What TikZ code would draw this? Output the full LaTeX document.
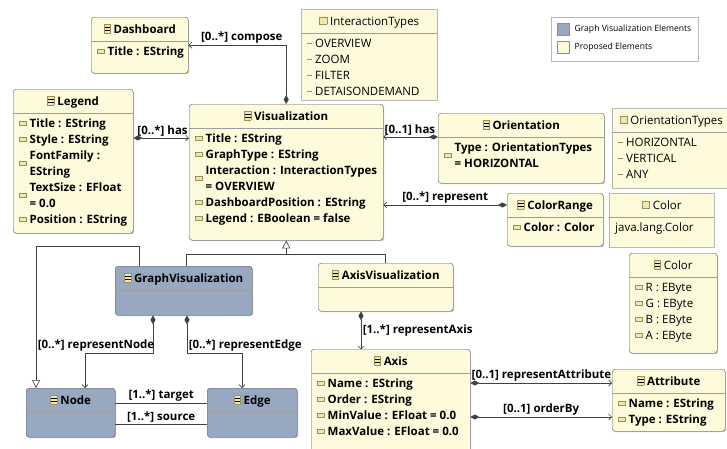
\documentclass[tikz,border=0pt]{standalone}
\usepackage{fontspec}
\setmainfont{Open Sans}
\usetikzlibrary{arrows.meta,positioning,shadows}

\definecolor{propfill}{HTML}{FDFBDC}
\definecolor{graphfill}{HTML}{98A8C0}
\definecolor{boxline}{HTML}{5E5E5E}
\definecolor{enumline}{HTML}{B8B8B8}
\definecolor{iconline}{HTML}{9C8F5C}
\definecolor{iconfill}{HTML}{F2E6B0}
\definecolor{wire}{HTML}{404040}

\setlength{\fboxsep}{0pt}
\setlength{\fboxrule}{0.5pt}
% small icons in front of classes, attributes and literals
\newcommand\aicon{\raisebox{2pt}{\fcolorbox{iconline}{iconfill}{\rule{0pt}{3.5pt}\hspace{6.5pt}}}}
\newcommand\wrapicon{\smash{\raisebox{-8pt}{\aicon}}}
\newcommand\ind{\phantom{\aicon}}
\newcommand\cicon{\raisebox{0.5pt}{\fcolorbox{iconline}{iconfill}{\rlap{\rule[2.6pt]{6pt}{0.4pt}}\rlap{\rule[5.2pt]{6pt}{0.4pt}}\rule{0pt}{8pt}\hspace{6pt}}}}
\newcommand\eicon{\raisebox{1.5pt}{\fcolorbox{iconline}{iconfill}{\rule{0pt}{6pt}\hspace{7pt}}}}
\newcommand\lit{\textcolor{iconline}{\rule[3.5pt]{5pt}{1.1pt}}\ }

% box, header line, title and attribute list
\newcommand\umlclass[8][]{%
  \node[#6, minimum width=#4, minimum height=#5, anchor=north west] (#2) at (#3) {};
  \draw[sepline] ([yshift=-24pt]#2.north west) -- ([yshift=-24pt]#2.north east);
  \node[title, #1] at ([yshift=-13pt]#2.north) {#7};
  \node[attrs, #1] at ([shift={(6pt,-29pt)}]#2.north west) {\rule{0pt}{9pt}#8};
}

\tikzset{
  propclass/.style={draw=boxline, fill=propfill, rounded corners=3pt, inner sep=0pt,
    drop shadow={shadow xshift=1pt, shadow yshift=-1pt, fill=black, opacity=0.25}},
  graphclass/.style={propclass, fill=graphfill},
  enumbox/.style={draw=enumline, fill=propfill, inner sep=0pt,
    drop shadow={shadow xshift=1pt, shadow yshift=-1pt, fill=black, opacity=0.2}},
  sepline/.style={draw=boxline!60, line width=0.6pt},
  title/.style={font=\bfseries\fontsize{11.5}{16}\selectfont, inner sep=0pt, text height=8.5pt, text depth=2.5pt},
  attrs/.style={font=\bfseries\fontsize{11.5}{16}\selectfont, align=left, inner sep=0pt, anchor=north west},
  plain/.style={font=\mdseries\fontsize{11.5}{16}\selectfont},
  lab/.style={font=\bfseries\fontsize{11.5}{14}\selectfont, inner sep=1.5pt, text=black},
  line/.style={draw=wire, line width=0.6pt},
  comp/.style={line, {Diamond[length=9pt,width=5pt]}-{Straight Barb[length=3pt,width=6pt]}},
  gen/.style={line, -{Triangle[open, fill=white, length=8pt, width=8pt]}},
  keybox/.style={draw=enumline, fill=white, inner sep=0pt},
  swatch/.style={draw=boxline!70, minimum size=12pt, inner sep=0pt},
  keytext/.style={font=\fontsize{8.6}{10}\selectfont, inner sep=0pt}
}

\begin{document}
\begin{tikzpicture}[x=1pt, y=-1pt]
  \useasboundingbox (0,0) rectangle (727,448);
  \clip (0,0) rectangle (727,448);
  \fill[white] (0,0) rectangle (727,448);

  % proposed elements
  \umlclass{dash}{91,17}{97pt}{56pt}{propclass}{\cicon\ Dashboard}{\aicon\ Title : EString}
  \umlclass[plain]{inter}{301,9}{136pt}{91pt}{enumbox}{\eicon\ InteractionTypes}
    {\lit OVERVIEW\\ \lit ZOOM\\ \lit FILTER\\ \lit DETAISONDEMAND}
  \umlclass{legendc}{13,89}{120pt}{144pt}{propclass}{\cicon\ Legend}
    {\aicon\ Title : EString\\ \aicon\ Style : EString\\ \wrapicon\ FontFamily :\\ \ind\ EString\\
     \wrapicon\ TextSize : EFloat\\ \ind\ = 0.0\\ \aicon\ Position : EString}
  \umlclass{vis}{189,104}{194pt}{136pt}{propclass}{\cicon\ Visualization}
    {\aicon\ Title : EString\\ \aicon\ GraphType : EString\\ \wrapicon\ Interaction : InteractionTypes\\
     \ind\ = OVERVIEW\\ \aicon\ DashboardPosition : EString\\ \aicon\ Legend : EBoolean = false}
  \umlclass{orient}{438,113}{166pt}{70pt}{propclass}{\cicon\ Orientation}
    {\wrapicon\ Type : OrientationTypes\\ \ind\ = HORIZONTAL}
  \umlclass[plain]{otypes}{612,108}{118pt}{80pt}{enumbox}{\eicon\ OrientationTypes}
    {\lit HORIZONTAL\\ \lit VERTICAL\\ \lit ANY}
  \umlclass{crange}{507,193}{96pt}{53pt}{propclass}{\cicon\ ColorRange}{\aicon\ Color : Color}
  \umlclass[plain]{colordt}{609,193}{105pt}{54pt}{enumbox}{\eicon\ Color}{java.lang.Color}
  \umlclass[plain]{colorc}{629,253}{88pt}{100pt}{propclass}{\cicon\ Color}
    {\aicon\ R : EByte\\ \aicon\ G : EByte\\ \aicon\ B : EByte\\ \aicon\ A : EByte}
  \umlclass{axisvis}{318,263}{135pt}{48pt}{propclass}{\cicon\ AxisVisualization}{}
  \umlclass{axis}{311,349}{159pt}{110pt}{propclass}{\cicon\ Axis}
    {\aicon\ Name : EString\\ \aicon\ Order : EString\\ \aicon\ MinValue : EFloat = 0.0\\ \aicon\ MaxValue : EFloat = 0.0}
  \umlclass{attr}{612,369}{113pt}{62pt}{propclass}{\cicon\ Attribute}
    {\aicon\ Name : EString\\ \aicon\ Type : EString}

  % graph visualization elements
  \umlclass{graphvis}{115,266}{137pt}{49pt}{graphclass}{\cicon\ GraphVisualization}{}
  \umlclass{node}{26,388}{89pt}{49pt}{graphclass}{\cicon\ Node}{}
  \umlclass{edge}{207,388}{90pt}{49pt}{graphclass}{\cicon\ Edge}{}

  % key
  \node[keybox, minimum width=147pt, minimum height=44pt, anchor=north west] (key) at (551,17) {};
  \node[swatch, fill=graphfill, anchor=north west] (sw1) at ([shift={(6pt,-6pt)}]key.north west) {};
  \node[keytext, right=5pt of sw1] {Graph Visualization Elements};
  \node[swatch, fill=propfill, below=6pt of sw1] (sw2) {};
  \node[keytext, right=5pt of sw2] {Proposed Elements};

  % references
  \draw[comp] (vis.north) |- (dash.east) node[lab, pos=0.5, anchor=south east, xshift=-2pt] {[0..*] compose};
  \coordinate (hasL) at ([yshift=-49pt]legendc.north east);
  \draw[comp] (hasL) -- (hasL -| vis.west) node[lab, pos=1, anchor=south east, inner sep=1pt] {[0..*] has};
  \coordinate (hasO) at ([yshift=-24pt]orient.north west);
  \draw[comp] (hasO) -- (hasO -| vis.east) node[lab, pos=1, anchor=south west, inner sep=1pt] {[0..1] has};
  \coordinate (repC) at ([yshift=-12pt]crange.north west);
  \draw[comp] (repC) -- (repC -| vis.east) node[lab, midway, above] {[0..*] represent};
  \draw[comp] ([xshift=38pt]graphvis.south west) -- ++(0,38)
    node[lab, pos=1, anchor=south east, xshift=3pt] {[0..*] representNode} -| ([xshift=59pt]node.north west);
  \draw[comp] ([xshift=72pt]graphvis.south west) -- ++(0,38)
    node[lab, pos=1, anchor=south west] {[0..*] representEdge} -| ([xshift=35pt]edge.north west);
  \coordinate (tgt) at ([yshift=-15pt]node.north east);
  \draw[line] (tgt) -- (tgt -| edge.west) node[lab, midway, above] {[1..*] target};
  \coordinate (src) at ([yshift=-36pt]node.north east);
  \draw[line] (src) -- (src -| edge.west) node[lab, midway, above] {[1..*] source};
  \draw[comp] ([xshift=43pt]axisvis.south west) -- ++(0,38) node[lab, midway, right] {[1..*] representAxis};
  \coordinate (repA) at ([yshift=-34pt]axis.north east);
  \draw[comp] (repA) -- (repA -| attr.west) node[lab, pos=0, anchor=south west, inner sep=1pt] {[0..1] representAttribute};
  \coordinate (ordB) at ([yshift=-68pt]axis.north east);
  \draw[comp] (ordB) -- (ordB -| attr.west) node[lab, midway, above] {[0..1] orderBy};

  % inheritance
  \coordinate (genjoin) at ([yshift=-14pt]vis.south);
  \draw[gen] (genjoin) -- (vis.south);
  \draw[line] ([xshift=3pt]graphvis.north) |- (genjoin) -| (axisvis.north);
  \draw[gen] ([xshift=24pt]graphvis.north west) -- ++(0,-20) -| ([xshift=10pt]node.north west);
\end{tikzpicture}
\end{document}
